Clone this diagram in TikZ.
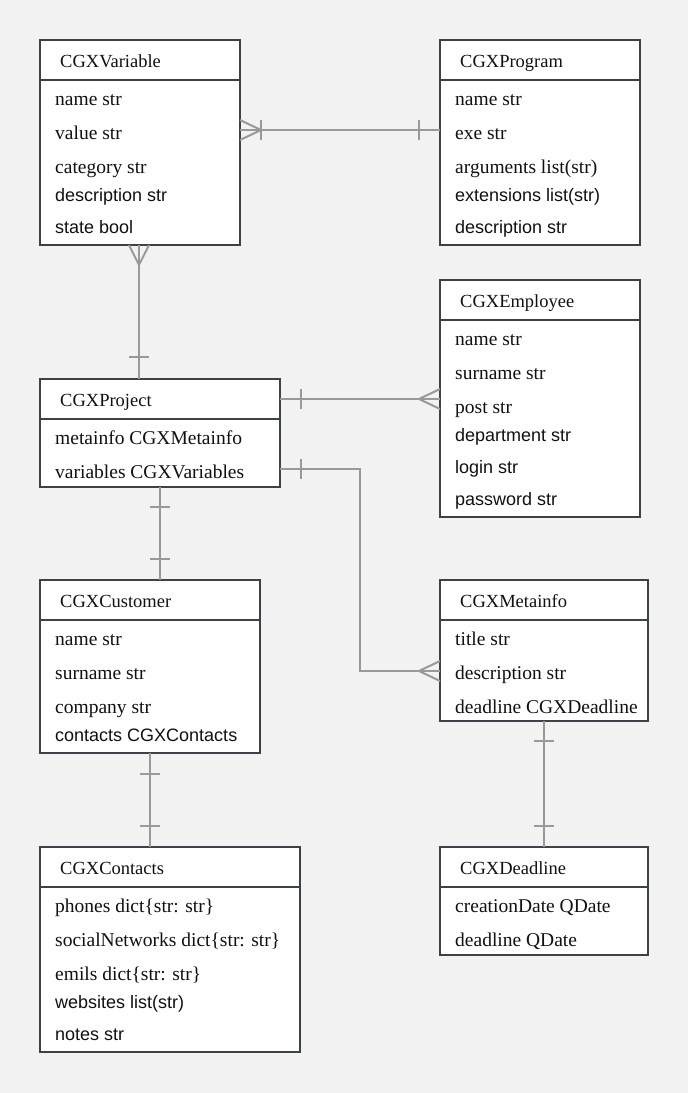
\documentclass[tikz,border=0pt]{standalone}
\usepackage{fontspec}
\setmainfont{Liberation Serif}
\newfontfamily\arialf{Liberation Sans}
\usetikzlibrary{calc}
\definecolor{bgc}{HTML}{F2F2F2}
\definecolor{boxc}{HTML}{3D4249}
\definecolor{relc}{HTML}{999999}
\definecolor{txt}{HTML}{111111}
\tikzset{
  entity/.style={draw=boxc, fill=white, line width=2pt, rectangle, anchor=north west, inner sep=0pt, outer sep=0pt},
  hline/.style={draw=boxc, line width=2pt},
  etitle/.style={anchor=west, inner sep=0pt, text height=16pt, text depth=3pt, font=\fontsize{18.5}{20}\selectfont, text=txt},
  attr/.style={anchor=west, inner sep=0pt, text height=16pt, text depth=3pt, font=\fontsize{19.5}{22}\selectfont, text=txt},
  attrs/.style={anchor=west, inner sep=0pt, text height=16pt, text depth=3pt, font=\arialf\fontsize{18}{20}\selectfont, text=txt},
  rel/.style={draw=relc, line width=2pt},
}
\begin{document}
\begin{tikzpicture}[x=1pt,y=-1pt]
\useasboundingbox[fill=bgc] (0,0) rectangle (688,1093);

% ---------- CGXVariable
\node[entity, minimum width=200pt, minimum height=205pt] (var) at (40,40) {};
\draw[hline] ([yshift=-40pt]var.north west) -- ([yshift=-40pt]var.north east);
\node[etitle] (varT) at ([xshift=20pt,yshift=-21pt]var.north west) {CGXVariable};
\node[attr]  (var1) at ([xshift=15pt,yshift=-59pt]var.north west) {name str};
\node[attr]  (var2) at ([xshift=15pt,yshift=-93pt]var.north west) {value str};
\node[attr]  (var3) at ([xshift=15pt,yshift=-127pt]var.north west) {category str};
\node[attrs] (var4) at ([xshift=15pt,yshift=-155pt]var.north west) {description str};
\node[attrs] (var5) at ([xshift=15pt,yshift=-187pt]var.north west) {state bool};

% ---------- CGXProgram
\node[entity, minimum width=200pt, minimum height=205pt] (prog) at (440,40) {};
\draw[hline] ([yshift=-40pt]prog.north west) -- ([yshift=-40pt]prog.north east);
\node[etitle] (progT) at ([xshift=20pt,yshift=-21pt]prog.north west) {CGXProgram};
\node[attr]  (prog1) at ([xshift=15pt,yshift=-59pt]prog.north west) {name str};
\node[attr]  (prog2) at ([xshift=15pt,yshift=-93pt]prog.north west) {exe str};
\node[attr]  (prog3) at ([xshift=15pt,yshift=-127pt]prog.north west) {arguments list(str)};
\node[attrs] (prog4) at ([xshift=15pt,yshift=-155pt]prog.north west) {extensions list(str)};
\node[attrs] (prog5) at ([xshift=15pt,yshift=-187pt]prog.north west) {description str};

% ---------- CGXEmployee
\node[entity, minimum width=200pt, minimum height=237pt] (emp) at (440,280) {};
\draw[hline] ([yshift=-40pt]emp.north west) -- ([yshift=-40pt]emp.north east);
\node[etitle] (empT) at ([xshift=20pt,yshift=-21pt]emp.north west) {CGXEmployee};
\node[attr]  (emp1) at ([xshift=15pt,yshift=-59pt]emp.north west) {name str};
\node[attr]  (emp2) at ([xshift=15pt,yshift=-93pt]emp.north west) {surname str};
\node[attr]  (emp3) at ([xshift=15pt,yshift=-127pt]emp.north west) {post str};
\node[attrs] (emp4) at ([xshift=15pt,yshift=-155pt]emp.north west) {department str};
\node[attrs] (emp5) at ([xshift=15pt,yshift=-187pt]emp.north west) {login str};
\node[attrs] (emp6) at ([xshift=15pt,yshift=-219pt]emp.north west) {password str};

% ---------- CGXProject
\node[entity, minimum width=240pt, minimum height=108pt] (proj) at (40,379) {};
\draw[hline] ([yshift=-40pt]proj.north west) -- ([yshift=-40pt]proj.north east);
\node[etitle] (projT) at ([xshift=20pt,yshift=-21pt]proj.north west) {CGXProject};
\node[attr]  (proj1) at ([xshift=15pt,yshift=-59pt]proj.north west) {metainfo CGXMetainfo};
\node[attr]  (proj2) at ([xshift=15pt,yshift=-93pt]proj.north west) {variables CGXVariables};

% ---------- CGXCustomer
\node[entity, minimum width=220pt, minimum height=173pt] (cust) at (40,580) {};
\draw[hline] ([yshift=-40pt]cust.north west) -- ([yshift=-40pt]cust.north east);
\node[etitle] (custT) at ([xshift=20pt,yshift=-21pt]cust.north west) {CGXCustomer};
\node[attr]  (cust1) at ([xshift=15pt,yshift=-59pt]cust.north west) {name str};
\node[attr]  (cust2) at ([xshift=15pt,yshift=-93pt]cust.north west) {surname str};
\node[attr]  (cust3) at ([xshift=15pt,yshift=-127pt]cust.north west) {company str};
\node[attrs] (cust4) at ([xshift=15pt,yshift=-155pt]cust.north west) {contacts CGXContacts};

% ---------- CGXMetainfo
\node[entity, minimum width=208pt, minimum height=141pt] (meta) at (440,580) {};
\draw[hline] ([yshift=-40pt]meta.north west) -- ([yshift=-40pt]meta.north east);
\node[etitle] (metaT) at ([xshift=20pt,yshift=-21pt]meta.north west) {CGXMetainfo};
\node[attr]  (meta1) at ([xshift=15pt,yshift=-59pt]meta.north west) {title str};
\node[attr]  (meta2) at ([xshift=15pt,yshift=-93pt]meta.north west) {description str};
\node[attr]  (meta3) at ([xshift=15pt,yshift=-127pt]meta.north west) {deadline CGXDeadline};

% ---------- CGXContacts
\node[entity, minimum width=260pt, minimum height=205pt] (cont) at (40,847) {};
\draw[hline] ([yshift=-40pt]cont.north west) -- ([yshift=-40pt]cont.north east);
\node[etitle] (contT) at ([xshift=20pt,yshift=-21pt]cont.north west) {CGXContacts};
\node[attr]  (cont1) at ([xshift=15pt,yshift=-59pt]cont.north west) {phones dict\{str: str\}};
\node[attr]  (cont2) at ([xshift=15pt,yshift=-93pt]cont.north west) {socialNetworks dict\{str: str\}};
\node[attr]  (cont3) at ([xshift=15pt,yshift=-127pt]cont.north west) {emils dict\{str: str\}};
\node[attrs] (cont4) at ([xshift=15pt,yshift=-155pt]cont.north west) {websites list(str)};
\node[attrs] (cont5) at ([xshift=15pt,yshift=-187pt]cont.north west) {notes str};

% ---------- CGXDeadline
\node[entity, minimum width=208pt, minimum height=108pt] (dead) at (440,847) {};
\draw[hline] ([yshift=-40pt]dead.north west) -- ([yshift=-40pt]dead.north east);
\node[etitle] (deadT) at ([xshift=20pt,yshift=-21pt]dead.north west) {CGXDeadline};
\node[attr]  (dead1) at ([xshift=15pt,yshift=-59pt]dead.north west) {creationDate QDate};
\node[attr]  (dead2) at ([xshift=15pt,yshift=-93pt]dead.north west) {deadline QDate};

% ================= relationships
% Variable -- Program
\coordinate (c1a) at ([yshift=-90pt]var.north east);
\coordinate (c1b) at (c1a -| prog.west);
\draw[rel] (c1a) -- (c1b);
\draw[rel] ([yshift=10pt]c1a) -- ([xshift=21pt]c1a) -- ([yshift=-10pt]c1a);
\draw[rel] ([xshift=21pt,yshift=10pt]c1a) -- ([xshift=21pt,yshift=-10pt]c1a);
\draw[rel] ([xshift=-21pt,yshift=10pt]c1b) -- ([xshift=-21pt,yshift=-10pt]c1b);

% Variable -- Project
\coordinate (c2a) at ([xshift=99pt]var.south west);
\coordinate (c2b) at (c2a |- proj.north);
\draw[rel] (c2a) -- (c2b);
\draw[rel] ([xshift=-10pt]c2a) -- ([yshift=-20pt]c2a) -- ([xshift=10pt]c2a);
\draw[rel] ([xshift=-10pt,yshift=22pt]c2b) -- ([xshift=10pt,yshift=22pt]c2b);

% Project -- Employee
\coordinate (c3a) at ([yshift=-20pt]proj.north east);
\coordinate (c3b) at (c3a -| emp.west);
\draw[rel] (c3a) -- (c3b);
\draw[rel] ([xshift=21pt,yshift=10pt]c3a) -- ([xshift=21pt,yshift=-10pt]c3a);
\draw[rel] ([yshift=10pt]c3b) -- ([xshift=-21pt]c3b) -- ([yshift=-10pt]c3b);

% Project -- Metainfo
\coordinate (c4a) at ([yshift=-90pt]proj.north east);
\coordinate (c4d) at ([yshift=-91pt]meta.north west);
\coordinate (c4b) at ([xshift=80pt]c4a);
\coordinate (c4c) at (c4b |- c4d);
\draw[rel] (c4a) -- (c4b) -- (c4c) -- (c4d);
\draw[rel] ([xshift=21pt,yshift=10pt]c4a) -- ([xshift=21pt,yshift=-10pt]c4a);
\draw[rel] ([yshift=10pt]c4d) -- ([xshift=-21pt]c4d) -- ([yshift=-10pt]c4d);

% Project -- Customer
\coordinate (c5a) at (proj.south);
\coordinate (c5b) at (proj.south |- cust.north);
\draw[rel] (c5a) -- (c5b);
\draw[rel] ([xshift=-10pt,yshift=-20pt]c5a) -- ([xshift=10pt,yshift=-20pt]c5a);
\draw[rel] ([xshift=-10pt,yshift=21pt]c5b) -- ([xshift=10pt,yshift=21pt]c5b);

% Customer -- Contacts
\coordinate (c6a) at (cust.south);
\coordinate (c6b) at (cust.south |- cont.north);
\draw[rel] (c6a) -- (c6b);
\draw[rel] ([xshift=-10pt,yshift=-21pt]c6a) -- ([xshift=10pt,yshift=-21pt]c6a);
\draw[rel] ([xshift=-10pt,yshift=21pt]c6b) -- ([xshift=10pt,yshift=21pt]c6b);

% Metainfo -- Deadline
\coordinate (c7a) at (meta.south);
\coordinate (c7b) at (meta.south |- dead.north);
\draw[rel] (c7a) -- (c7b);
\draw[rel] ([xshift=-10pt,yshift=-20pt]c7a) -- ([xshift=10pt,yshift=-20pt]c7a);
\draw[rel] ([xshift=-10pt,yshift=21pt]c7b) -- ([xshift=10pt,yshift=21pt]c7b);
\end{tikzpicture}
\end{document}
